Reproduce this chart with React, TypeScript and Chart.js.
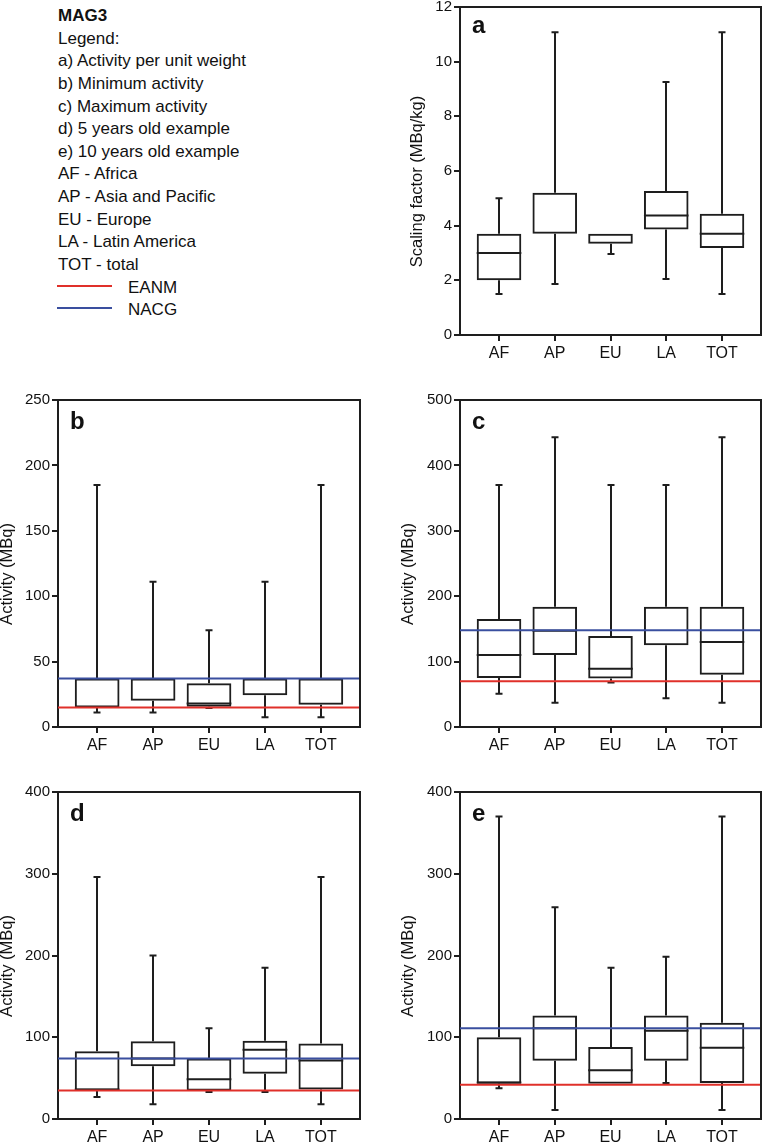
import React, { useEffect, useRef } from "react";
import { Chart, registerables } from "chart.js";

Chart.register(...registerables);

const FONT = "'Liberation Sans', Arial, Helvetica, sans-serif";
const INK = "#1e1e1e";
const RED = "#e0302a";
const BLUE = "#3a4f9f";

// ---------- data ----------
const categories = ["AF", "AP", "EU", "LA", "TOT"];

// a) Activity per unit weight (MBq/kg)
const aMin = [1.5, 1.87, 2.96, 2.05, 1.5];
const aQ1 = [2.0, 3.7, 3.34, 3.86, 3.18];
const aMedian = [3.0, 3.7, 3.7, 4.37, 3.7];
const aQ3 = [3.7, 5.2, 3.7, 5.27, 4.44];
const aMax = [5.0, 11.08, 3.7, 9.26, 11.08];

// b) Minimum activity (MBq)
const bMin = [11, 11, 14.5, 7.4, 7.4];
const bQ1 = [15, 20, 15.5, 24.2, 17.1];
const bMedian = [15, 37, 18, 37, 37];
const bQ3 = [37, 37, 33.5, 37, 37];
const bMax = [185, 111, 74, 111, 185];
const bEANM = 15;
const bNACG = 37;

// c) Maximum activity (MBq)
const cMin = [51, 37, 68, 44, 37];
const cQ1 = [75, 110, 74, 125, 80];
const cMedian = [110, 147, 89, 184, 130];
const cQ3 = [165, 184, 139, 184, 184];
const cMax = [370, 443, 370, 370, 443];
const cEANM = 70;
const cNACG = 148;

// d) 5 years old example (MBq)
const dMin = [27, 18, 33, 33, 18];
const dQ1 = [34.6, 64.4, 34.6, 55.4, 36];
const dMedian = [36.2, 74, 48.5, 84.8, 71.7];
const dQ3 = [83, 95, 74, 95.8, 92.5];
const dMax = [296, 200, 111, 185, 296];
const dEANM = 35;
const dNACG = 74;

// e) 10 years old example (MBq)
const eMin = [37.5, 11, 43, 44, 11];
const eQ1 = [43.2, 71.3, 43, 71.3, 44];
const eMedian = [44.8, 111, 59.5, 108, 87.2];
const eQ3 = [100, 126.7, 88, 126.7, 117.8];
const eMax = [370, 259, 185, 198.5, 370];
const eEANM = 42;
const eNACG = 111;

const legendLines = [
  "Legend:",
  "a) Activity per unit weight",
  "b) Minimum activity",
  "c) Maximum activity",
  "d) 5 years old example",
  "e) 10 years old example",
  "AF - Africa",
  "AP - Asia and Pacific",
  "EU - Europe",
  "LA - Latin America",
  "TOT - total",
];

// ---------- layout ----------
type PanelCfg = {
  letter: string;
  left: number; top: number; w: number; h: number;
  plotLeft: number; plotRight: number; plotTop: number; plotBottom: number;
  yMax: number; yStep: number;
  title: string; titleX: number; letterDy: number;
  min: number[]; q1: number[]; median: number[]; q3: number[]; max: number[];
  eanm: number | null; nacg: number | null;
};

const panels: PanelCfg[] = [
  { letter: "a", left: 380, top: 0, w: 382, h: 372, plotLeft: 460, plotRight: 761, plotTop: 7, plotBottom: 335,
    yMax: 12, yStep: 2, title: "Scaling factor (MBq/kg)", titleX: 417, letterDy: 26,
    min: aMin, q1: aQ1, median: aMedian, q3: aQ3, max: aMax, eanm: null, nacg: null },
  { letter: "b", left: 0, top: 380, w: 381, h: 372, plotLeft: 58, plotRight: 360, plotTop: 400, plotBottom: 727,
    yMax: 250, yStep: 50, title: "Activity (MBq)", titleX: 7.5, letterDy: 29,
    min: bMin, q1: bQ1, median: bMedian, q3: bQ3, max: bMax, eanm: bEANM, nacg: bNACG },
  { letter: "c", left: 380, top: 380, w: 382, h: 372, plotLeft: 460, plotRight: 761, plotTop: 400, plotBottom: 727,
    yMax: 500, yStep: 100, title: "Activity (MBq)", titleX: 408.5, letterDy: 29,
    min: cMin, q1: cQ1, median: cMedian, q3: cQ3, max: cMax, eanm: cEANM, nacg: cNACG },
  { letter: "d", left: 0, top: 772, w: 381, h: 370, plotLeft: 58, plotRight: 360, plotTop: 792, plotBottom: 1119,
    yMax: 400, yStep: 100, title: "Activity (MBq)", titleX: 7.5, letterDy: 29,
    min: dMin, q1: dQ1, median: dMedian, q3: dQ3, max: dMax, eanm: dEANM, nacg: dNACG },
  { letter: "e", left: 380, top: 772, w: 382, h: 370, plotLeft: 460, plotRight: 761, plotTop: 792, plotBottom: 1119,
    yMax: 400, yStep: 100, title: "Activity (MBq)", titleX: 408.5, letterDy: 29,
    min: eMin, q1: eQ1, median: eMedian, q3: eQ3, max: eMax, eanm: eEANM, nacg: eNACG },
];

const X_MIN = -0.7;
const X_MAX = 4.7;
const CAP_HALF = 3.5;
const TITLE_SHIFT = 10.5;

function makeBoxPlugin(cfg: PanelCfg, barIndex: number) {
  return {
    id: "boxExtras" + cfg.letter,
    beforeDatasetsDraw(chart: any) {
      const ctx = chart.ctx;
      const y = chart.scales.y;
      const meta = chart.getDatasetMeta(barIndex);
      ctx.save();
      ctx.strokeStyle = INK;
      ctx.lineWidth = 2;
      meta.data.forEach((el: any, i: number) => {
        const cx = Math.round(el.x);
        const half = el.width / 2;
        const yMaxP = y.getPixelForValue(cfg.max[i]);
        const yMinP = y.getPixelForValue(cfg.min[i]);
        const yQ1 = y.getPixelForValue(cfg.q1[i]);
        const yQ3 = y.getPixelForValue(cfg.q3[i]);
        const yMed = y.getPixelForValue(cfg.median[i]);
        ctx.beginPath();
        if (cfg.max[i] > cfg.q3[i]) {
          ctx.moveTo(cx, yQ3);
          ctx.lineTo(cx, yMaxP);
          ctx.moveTo(cx - CAP_HALF, yMaxP);
          ctx.lineTo(cx + CAP_HALF, yMaxP);
        }
        if (cfg.min[i] < cfg.q1[i]) {
          ctx.moveTo(cx, yQ1);
          ctx.lineTo(cx, yMinP);
          ctx.moveTo(cx - CAP_HALF, yMinP);
          ctx.lineTo(cx + CAP_HALF, yMinP);
        }
        if (cfg.median[i] !== cfg.q1[i] && cfg.median[i] !== cfg.q3[i]) {
          ctx.moveTo(el.x - half, yMed);
          ctx.lineTo(el.x + half, yMed);
        }
        ctx.stroke();
      });
      ctx.restore();
    },
    afterDraw(chart: any) {
      const ctx = chart.ctx;
      const a = chart.chartArea;
      ctx.save();
      ctx.strokeStyle = INK;
      ctx.lineWidth = 2;
      ctx.beginPath();
      ctx.moveTo(a.left - 1, a.top);
      ctx.lineTo(a.right, a.top);
      ctx.lineTo(a.right, a.bottom);
      ctx.stroke();
      // panel letter
      ctx.fillStyle = "#111";
      ctx.font = `bold 24px ${FONT}`;
      ctx.textBaseline = "alphabetic";
      ctx.textAlign = "left";
      ctx.fillText(cfg.letter, a.left + 12, a.top + cfg.letterDy);
      // y axis title
      ctx.font = `16.5px ${FONT}`;
      ctx.textAlign = "center";
      ctx.textBaseline = "middle";
      ctx.translate(cfg.titleX - cfg.left, (a.top + a.bottom) / 2 + TITLE_SHIFT);
      ctx.rotate(-Math.PI / 2);
      ctx.fillText(cfg.title, 0, 0);
      ctx.restore();
    },
  };
}

function buildConfig(cfg: PanelCfg): any {
  const datasets: any[] = [];
  if (cfg.eanm !== null) {
    datasets.push({
      type: "line", label: "EANM",
      data: [{ x: X_MIN, y: cfg.eanm }, { x: X_MAX, y: cfg.eanm }],
      borderColor: RED, borderWidth: 2, pointRadius: 0, order: 1,
    });
  }
  if (cfg.nacg !== null) {
    datasets.push({
      type: "line", label: "NACG",
      data: [{ x: X_MIN, y: cfg.nacg }, { x: X_MAX, y: cfg.nacg }],
      borderColor: BLUE, borderWidth: 2, pointRadius: 0, order: 1,
    });
  }
  const barIndex = datasets.length;
  datasets.push({
    type: "bar", label: "box",
    data: categories.map((_, i) => ({ x: i, y: [cfg.q1[i], cfg.q3[i]] })),
    backgroundColor: "rgba(0,0,0,0)",
    borderColor: INK, borderWidth: 2, borderSkipped: false,
    barPercentage: 0.8, categoryPercentage: 1, order: 2,
  });

  const yWidth = cfg.plotLeft - cfg.left;
  const xHeight = cfg.top + cfg.h - cfg.plotBottom;

  return {
    type: "bar",
    data: { datasets },
    options: {
      responsive: false,
      animation: false,
      devicePixelRatio: 1,
      events: [],
      layout: {
        padding: { left: 0, bottom: 0, top: cfg.plotTop - cfg.top, right: cfg.left + cfg.w - cfg.plotRight },
      },
      plugins: { legend: { display: false }, tooltip: { enabled: false } },
      scales: {
        x: {
          type: "linear", min: X_MIN, max: X_MAX, offset: false,
          afterBuildTicks: (s: any) => { s.ticks = categories.map((_, i) => ({ value: i })); },
          afterFit: (s: any) => { s.height = xHeight; s.paddingLeft = 0; s.paddingRight = 0; },
          ticks: {
            callback: (v: any) => categories[v] ?? "",
            font: { size: 16, family: FONT }, color: "#111", padding: 3,
            maxRotation: 0, autoSkip: false,
          },
          grid: { drawOnChartArea: false, offset: false, tickLength: 6, color: INK, lineWidth: 2 },
          border: { color: INK, width: 2 },
        },
        y: {
          type: "linear", min: 0, max: cfg.yMax,
          afterFit: (s: any) => { s.width = yWidth; s.paddingTop = 0; s.paddingBottom = 0; },
          ticks: { stepSize: cfg.yStep, font: { size: 15, family: FONT }, color: "#111", padding: 2 },
          grid: { drawOnChartArea: false, tickLength: 6, color: INK, lineWidth: 2 },
          border: { color: INK, width: 2 },
          title: { display: false },
        },
      },
    },
    plugins: [makeBoxPlugin(cfg, barIndex)],
  };
}

function Panel({ cfg }: { cfg: PanelCfg }) {
  const ref = useRef<HTMLCanvasElement>(null);
  useEffect(() => {
    const chart = new Chart(ref.current as HTMLCanvasElement, buildConfig(cfg));
    return () => chart.destroy();
  }, [cfg]);
  return (
    <canvas
      ref={ref}
      width={cfg.w}
      height={cfg.h}
      style={{ position: "absolute", left: cfg.left, top: cfg.top, width: cfg.w, height: cfg.h }}
    />
  );
}

const ROW = 22.64;
const ROW0 = 5;

function Legend() {
  const rowStyle = (i: number): React.CSSProperties => ({
    position: "absolute", left: 58, top: ROW0 + i * ROW, lineHeight: ROW + "px",
    fontSize: 17, whiteSpace: "nowrap", color: "#111", fontFamily: FONT,
  });
  const keyRow = (i: number, color: string, text: string) => (
    <React.Fragment key={text}>
      <div style={{ position: "absolute", left: 57, top: ROW0 + i * ROW + 8, width: 55, height: 2, background: color }} />
      <div style={{ ...rowStyle(i), left: 128 }}>{text}</div>
    </React.Fragment>
  );
  return (
    <>
      <div style={{ ...rowStyle(0), fontWeight: "bold" }}>MAG3</div>
      {legendLines.map((t, i) => (
        <div key={t} style={rowStyle(i + 1)}>{t}</div>
      ))}
      {keyRow(legendLines.length + 1, RED, "EANM")}
      {keyRow(legendLines.length + 2, BLUE, "NACG")}
    </>
  );
}

export default function App() {
  return (
    <div style={{ position: "absolute", left: 0, top: 0, width: 762, height: 1142, background: "#fff", overflow: "hidden" }}>
      <Legend />
      {panels.map((p) => (
        <Panel key={p.letter} cfg={p} />
      ))}
    </div>
  );
}
